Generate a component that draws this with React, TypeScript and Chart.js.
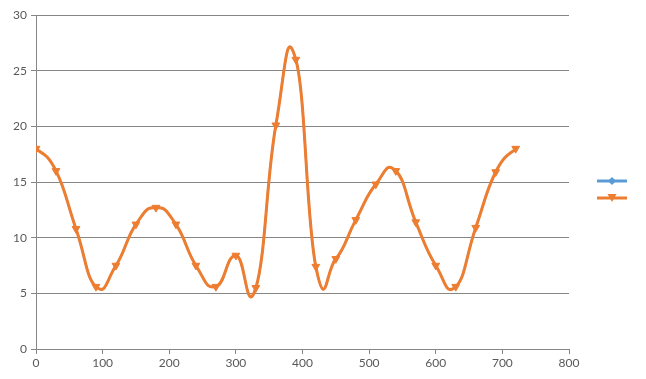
import React, { useEffect, useRef } from "react";
import { Chart, registerables } from "chart.js";

Chart.register(...registerables);

const xValues = [0, 30, 60, 90, 120, 150, 180, 210, 240, 270, 300, 330, 360, 390, 420, 450, 480, 510, 540, 570, 600, 630, 660, 690, 720];
const seriesA = [18.0, 16.0, 10.8, 5.6, 7.5, 11.2, 12.7, 11.2, 7.5, 5.6, 8.4, 5.5, 20.1, 26.0, 7.4, 8.1, 11.6, 14.8, 16.0, 11.4, 7.5, 5.6, 10.9, 15.9, 18.0];
const seriesB = [18.0, 16.0, 10.8, 5.6, 7.5, 11.2, 12.7, 11.2, 7.5, 5.6, 8.4, 5.5, 20.1, 26.0, 7.4, 8.1, 11.6, 14.8, 16.0, 11.4, 7.5, 5.6, 10.9, 15.9, 18.0];
const xTicks = [0, 100, 200, 300, 400, 500, 600, 700, 800];
const yTicks = [0, 5, 10, 15, 20, 25, 30];

const BLUE = "#5B9BD5";
const ORANGE = "#ED7D31";
const GRID = "#868686";
const TEXT = "#595959";
const SMOOTH = 0.25;

// Excel-like smoothing: control points from neighbouring element positions
const smoothPlugin = {
  id: "excelSmooth",
  beforeDatasetDraw(chart: any, args: any) {
    const meta = chart.getDatasetMeta(args.index);
    const pts = meta.data;
    const n = pts.length;
    for (let i = 0; i < n; i++) {
      const p = pts[i];
      const prev = pts[i - 1] || p;
      const next = pts[i + 1] || p;
      const dx = next.x - prev.x;
      const dy = next.y - prev.y;
      p.cp1x = p.x - SMOOTH * dx;
      p.cp1y = p.y - SMOOTH * dy;
      p.cp2x = p.x + SMOOTH * dx;
      p.cp2y = p.y + SMOOTH * dy;
    }
    if (meta.dataset) meta.dataset._pointsUpdated = true;
  },
};

const legendPlugin = {
  id: "sideLegend",
  afterDraw(chart: any) {
    const ctx = chart.ctx;
    const items = [
      { color: BLUE, y: 181, kind: "diamond" },
      { color: ORANGE, y: 198, kind: "tri" },
    ];
    ctx.save();
    for (const it of items) {
      ctx.strokeStyle = it.color;
      ctx.fillStyle = it.color;
      ctx.lineWidth = 3;
      ctx.beginPath();
      ctx.moveTo(597, it.y);
      ctx.lineTo(627, it.y);
      ctx.stroke();
      const cx = 612;
      ctx.beginPath();
      if (it.kind === "diamond") {
        ctx.moveTo(cx, it.y - 4);
        ctx.lineTo(cx + 4, it.y);
        ctx.lineTo(cx, it.y + 4);
        ctx.lineTo(cx - 4, it.y);
      } else {
        ctx.moveTo(cx - 4.5, it.y - 4);
        ctx.lineTo(cx + 4.5, it.y - 4);
        ctx.lineTo(cx, it.y + 4);
      }
      ctx.closePath();
      ctx.fill();
    }
    ctx.restore();
  },
};

export default function App() {
  const ref = useRef<HTMLCanvasElement | null>(null);
  useEffect(() => {
    document.body.style.margin = "0";
    const canvas = ref.current!;
    const mk = (arr: number[]) => xValues.map((x, i) => ({ x, y: arr[i] }));
    const chart = new Chart(canvas, {
      type: "line",
      data: {
        datasets: [
          {
            label: "",
            data: mk(seriesB),
            borderColor: ORANGE,
            backgroundColor: ORANGE,
            borderWidth: 3,
            tension: 0.4,
            pointStyle: "triangle",
            rotation: 180,
            pointRadius: 4.5,
            pointBorderWidth: 1,
            fill: false,
          },
          {
            label: "",
            data: mk(seriesA),
            borderColor: BLUE,
            backgroundColor: BLUE,
            borderWidth: 2,
            tension: 0.4,
            pointStyle: "rectRot",
            pointRadius: 2,
            pointBorderWidth: 0,
            fill: false,
          },
        ],
      },
      options: {
        animation: false,
        responsive: false,
        layout: { padding: { left: 0, right: 77, top: 15, bottom: 0 } },
        plugins: {
          legend: { display: false },
          tooltip: { enabled: false },
        },
        scales: {
          x: {
            type: "linear",
            min: 0,
            max: 800,
            afterBuildTicks: (s: any) => {
              s.ticks = xTicks.map((v) => ({ value: v }));
            },
            afterFit: (s: any) => {
              s.height = 30;
            },
            grid: {
              drawOnChartArea: false,
              drawTicks: true,
              tickLength: 5,
              color: GRID,
            },
            border: { display: true, color: GRID, width: 1 },
            ticks: {
              color: TEXT,
              font: { family: "Lato, 'Liberation Sans', sans-serif", size: 12 },
              padding: 2,
              maxRotation: 0,
            },
          },
          y: {
            type: "linear",
            min: 0,
            max: 30,
            afterBuildTicks: (s: any) => {
              s.ticks = yTicks.map((v) => ({ value: v }));
            },
            afterFit: (s: any) => {
              s.width = 36;
            },
            grid: {
              drawTicks: true,
              tickLength: 5,
              color: GRID,
            },
            border: { display: true, color: GRID, width: 1 },
            ticks: {
              color: TEXT,
              font: { family: "Lato, 'Liberation Sans', sans-serif", size: 12 },
              padding: 4,
            },
          },
        },
      },
      plugins: [smoothPlugin, legendPlugin],
    } as any);
    return () => chart.destroy();
  }, []);
  return (
    <div style={{ position: "fixed", left: 0, top: 0, width: 646, height: 379, background: "#fff" }}>
      <canvas ref={ref} width={646} height={379} style={{ width: 646, height: 379, display: "block" }} />
    </div>
  );
}
